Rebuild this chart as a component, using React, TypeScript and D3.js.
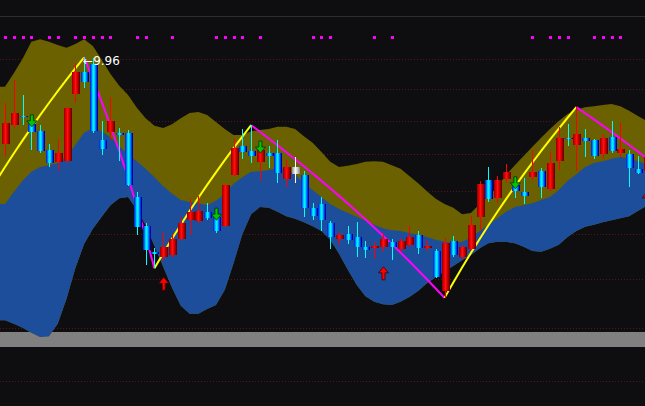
import React from 'react';
import * as d3 from 'd3';

const W = 645;
const H = 406;

// ---- price bars (log price axis) ----
const opens = [8.27, 8.61, 8.79, 8.63, 8.50, 8.16, 7.96, 7.97, 9.21, 9.65, 9.82, 8.34, 8.49, 8.46, 8.47, 7.38, 6.93, 6.55, 6.49, 6.51, 6.74, 7.02, 7.01, 7.14, 7.07, 6.93, 7.74, 8.23, 8.15, 7.96, 8.11, 8.11, 7.67, 7.75, 7.74, 7.21, 7.27, 6.98, 6.74, 6.81, 6.77, 6.63, 6.61, 6.63, 6.70, 6.60, 6.65, 6.80, 6.61, 6.57, 6.03, 6.71, 6.49, 6.60, 7.07, 7.65, 7.36, 7.67, 7.57, 7.46, 7.70, 7.80, 7.51, 7.97, 8.38, 8.25, 8.38, 8.34, 8.09, 8.39, 8.11, 8.09, 7.84, 7.80];
const highs = [9.03, 9.49, 9.19, 8.73, 8.61, 8.27, 8.36, 8.95, 9.84, 9.96, 9.94, 8.69, 9.15, 8.56, 8.52, 7.46, 6.98, 6.61, 6.84, 6.83, 7.07, 7.35, 7.39, 7.28, 7.11, 7.59, 8.36, 8.54, 8.61, 8.30, 8.23, 8.34, 7.99, 8.04, 7.80, 7.28, 7.38, 7.01, 6.84, 6.93, 6.99, 6.71, 6.70, 6.83, 6.74, 6.76, 6.93, 6.86, 6.73, 6.60, 6.76, 6.79, 6.66, 7.08, 7.64, 7.87, 7.72, 7.92, 7.67, 7.69, 8.16, 7.85, 8.13, 8.58, 8.63, 8.95, 8.54, 8.36, 8.45, 8.69, 8.65, 8.16, 8.06, 8.13];
const lows = [8.06, 8.56, 8.61, 8.16, 8.11, 7.87, 7.80, 7.94, 9.03, 9.33, 8.47, 8.08, 8.34, 7.97, 7.55, 6.80, 6.38, 6.33, 6.43, 6.49, 6.73, 6.80, 6.98, 7.02, 6.83, 6.92, 7.72, 8.01, 7.94, 7.64, 7.85, 7.60, 7.54, 7.60, 7.07, 7.02, 6.86, 6.60, 6.66, 6.67, 6.49, 6.47, 6.46, 6.56, 6.44, 6.56, 6.62, 6.53, 6.57, 6.20, 5.94, 6.49, 6.46, 6.58, 6.86, 7.30, 7.28, 7.60, 7.36, 7.27, 7.65, 7.36, 7.47, 7.82, 8.23, 7.80, 8.04, 8.01, 8.01, 8.11, 8.04, 7.54, 7.75, 7.75];
const closes = [8.65, 8.84, 8.76, 8.49, 8.15, 7.94, 8.11, 8.94, 9.65, 9.45, 8.50, 8.18, 8.69, 8.43, 7.57, 6.92, 6.58, 6.53, 6.63, 6.74, 6.98, 7.14, 7.16, 7.05, 6.86, 7.57, 8.20, 8.13, 8.06, 8.16, 8.06, 7.77, 7.87, 7.87, 7.21, 7.08, 7.02, 6.77, 6.80, 6.73, 6.63, 6.59, 6.64, 6.74, 6.63, 6.71, 6.77, 6.61, 6.64, 6.21, 6.68, 6.51, 6.63, 6.95, 7.59, 7.35, 7.65, 7.79, 7.47, 7.39, 7.79, 7.54, 7.94, 8.38, 8.35, 8.45, 8.32, 8.06, 8.38, 8.15, 8.18, 7.85, 7.77, 8.04];
const whiteBars = [33];

// ---- channel bands ----
const upperBand = [9.35, 9.63, 9.93, 10.30, 10.36, 10.30, 10.23, 10.17, 10.25, 10.36, 10.21, 9.91, 9.61, 9.37, 9.19, 8.94, 8.74, 8.60, 8.56, 8.63, 8.74, 8.84, 8.86, 8.80, 8.67, 8.54, 8.43, 8.43, 8.50, 8.52, 8.54, 8.58, 8.58, 8.54, 8.41, 8.29, 8.13, 7.96, 7.87, 7.89, 7.92, 7.96, 7.97, 7.96, 7.90, 7.84, 7.72, 7.60, 7.47, 7.35, 7.27, 7.21, 7.11, 7.13, 7.27, 7.39, 7.54, 7.74, 7.90, 8.06, 8.22, 8.38, 8.54, 8.69, 8.82, 8.90, 8.95, 8.97, 8.99, 9.01, 8.97, 8.88, 8.78, 8.69];
const midBand = [7.27, 7.46, 7.64, 7.79, 7.87, 7.90, 7.94, 8.04, 8.25, 8.47, 8.56, 8.50, 8.39, 8.23, 8.08, 7.97, 7.84, 7.70, 7.55, 7.43, 7.33, 7.30, 7.28, 7.25, 7.32, 7.43, 7.59, 7.70, 7.79, 7.80, 7.82, 7.85, 7.84, 7.74, 7.60, 7.49, 7.38, 7.27, 7.19, 7.13, 7.07, 7.01, 6.95, 6.90, 6.87, 6.86, 6.83, 6.80, 6.77, 6.73, 6.70, 6.68, 6.70, 6.76, 6.86, 6.95, 7.05, 7.15, 7.22, 7.25, 7.28, 7.33, 7.38, 7.49, 7.64, 7.75, 7.87, 7.94, 7.97, 8.01, 8.04, 8.02, 7.97, 7.92];
const lowerBand = [5.66, 5.62, 5.57, 5.51, 5.46, 5.47, 5.62, 5.93, 6.33, 6.67, 6.89, 7.07, 7.25, 7.36, 7.38, 7.18, 6.95, 6.64, 6.35, 6.07, 5.84, 5.74, 5.74, 5.80, 5.85, 6.04, 6.40, 6.81, 7.11, 7.22, 7.21, 7.15, 7.08, 7.04, 6.99, 6.93, 6.86, 6.73, 6.53, 6.31, 6.11, 5.96, 5.89, 5.86, 5.85, 5.89, 5.95, 6.03, 6.13, 6.21, 6.29, 6.36, 6.44, 6.51, 6.61, 6.68, 6.70, 6.70, 6.68, 6.63, 6.57, 6.56, 6.60, 6.66, 6.77, 6.86, 6.92, 6.95, 6.99, 7.02, 7.05, 7.08, 7.16, 7.24];

// ---- zigzag turning points [bar, price] ----
const zigPivots: [number, number][] = [[-4, 6.94], [9, 9.96], [17, 6.33], [28, 8.61], [50, 5.94], [65, 8.95], [73, 8.02]];

// ---- signals ----
const signalDots = [0, 1, 2, 3, 5, 6, 8, 9, 10, 11, 12, 15, 16, 19, 24, 25, 26, 27, 29, 35, 36, 37, 42, 44, 60, 62, 63, 64, 67, 68, 69, 70];
const sellArrows: [number, number][] = [[3, 8.58], [24, 7.02], [29, 8.11], [58, 7.51]];
const buyArrows: [number, number][] = [[18, 6.21], [43, 6.35], [73, 7.46]];

const gridPrices = [9.93, 9.31, 8.69, 8.09, 7.48, 6.82, 6.19, 5.57];
const lowerGrid = [0.5];
const highBar = 9;
const highLabel = '9.96';

export default function App() {
  const x = d3.scaleLinear().domain([0, 72]).range([5, 637.9]);
  const y = d3.scaleLog().domain([5, 10]).range([378, 55.6]);
  const yLow = d3.scaleLinear().domain([0, 1]).range([416, 346]);

  const n = opens.length;
  const idx = d3.range(n);
  const pts = idx.map((i) => ({ x: x(i), u: upperBand[i], m: midBand[i], l: lowerBand[i] }));
  const ext = [{ ...pts[0], x: 0 }, ...pts];

  const oliveArea = d3.area<any>().x((d) => d.x).y0((d) => y(d.l)).y1((d) => y(d.u))(ext) || '';
  const blueArea = d3.area<any>().x((d) => d.x).y0((d) => y(d.l)).y1((d) => y(d.m))(ext) || '';

  // zig line: linear in price between turning points, evaluated per bar
  const zigSegs = zigPivots.slice(1).map((p, k) => {
    const p0 = zigPivots[k];
    const steps: number[] = [];
    for (let t = p0[0]; t < p[0]; t++) steps.push(t);
    steps.push(p[0]);
    const line = d3.line<number>()
      .x((t) => x(t))
      .y((t) => y(p0[1] + ((p[1] - p0[1]) * (t - p0[0])) / (p[0] - p0[0])));
    return { d: line(steps) || '', up: p[1] > p0[1] };
  });

  const bw = 8;

  return (
    <>
      <style>{'body{margin:0;background:#0e0e10;}'}</style>
      <svg width={W} height={H} style={{ position: 'absolute', left: 0, top: 0, display: 'block' }}>
        <defs>
          <linearGradient id="gRed" x1="0" x2="1" y1="0" y2="0">
            <stop offset="0" stopColor="#7a0000" />
            <stop offset="0.3" stopColor="#e00000" />
            <stop offset="0.5" stopColor="#ff1010" />
            <stop offset="0.7" stopColor="#d80000" />
            <stop offset="1" stopColor="#700000" />
          </linearGradient>
          <linearGradient id="gBlue" x1="0" x2="1" y1="0" y2="0">
            <stop offset="0" stopColor="#0000a0" />
            <stop offset="0.25" stopColor="#0070ff" />
            <stop offset="0.45" stopColor="#00ffff" />
            <stop offset="0.6" stopColor="#00e0ff" />
            <stop offset="0.8" stopColor="#0060ff" />
            <stop offset="1" stopColor="#0000a0" />
          </linearGradient>
          <linearGradient id="gWhite" x1="0" x2="1" y1="0" y2="0">
            <stop offset="0" stopColor="#808080" />
            <stop offset="0.5" stopColor="#ffffff" />
            <stop offset="1" stopColor="#909090" />
          </linearGradient>
        </defs>
        <rect x={0} y={0} width={W} height={H} fill="#0e0e10" />
        <line x1={0} x2={W} y1={16.5} y2={16.5} stroke="#2e2e2e" strokeWidth={1} />

        {gridPrices.map((p, k) => (
          <line key={'g' + k} x1={0} x2={W} y1={Math.round(y(p)) + 0.5} y2={Math.round(y(p)) + 0.5}
            stroke="#5a1414" strokeWidth={1} strokeDasharray="1 2" />
        ))}
        {lowerGrid.map((v, k) => (
          <line key={'lg' + k} x1={0} x2={W} y1={Math.round(yLow(v)) + 0.5} y2={Math.round(yLow(v)) + 0.5}
            stroke="#5a1414" strokeWidth={1} strokeDasharray="1 2" />
        ))}

        <rect x={0} y={332} width={W} height={15} fill="#808080" />

        <path d={oliveArea} fill="#6b6100" />
        <path d={blueArea} fill="#1d4e9c" />

        {zigSegs.map((s, k) => (
          <path key={'z' + k} d={s.d} fill="none" stroke={s.up ? '#ffff00' : '#ff00ff'} strokeWidth={2} />
        ))}

        {idx.map((i) => {
          const o = opens[i], c = closes[i];
          const white = whiteBars.includes(i);
          const up = c > o;
          const fill = white ? 'url(#gWhite)' : up ? 'url(#gRed)' : 'url(#gBlue)';
          const wick = white ? '#ffffff' : up ? '#ff0000' : '#00ffff';
          const cx = Math.round(x(i));
          const top = Math.min(y(o), y(c));
          const h = Math.max(1.5, Math.abs(y(o) - y(c)));
          return (
            <g key={'c' + i} shapeRendering="crispEdges">
              <line x1={cx + 0.5} x2={cx + 0.5} y1={y(highs[i])} y2={y(lows[i])} stroke={wick} strokeWidth={1} />
              <rect x={cx - bw / 2 + 0.5} y={top} width={bw} height={h} fill={fill} />
            </g>
          );
        })}

        {sellArrows.map(([i, p], k) => {
          const cx = x(i) + 0.5;
          const t = y(p);
          const d = `M${cx - 1.5},${t - 12} L${cx + 1.5},${t - 12} L${cx + 1.5},${t - 6} L${cx + 5},${t - 6} L${cx},${t} L${cx - 5},${t - 6} L${cx - 1.5},${t - 6} Z`;
          return <path key={'s' + k} d={d} fill="#00c800" stroke="#003300" strokeWidth={0.8} />;
        })}
        {buyArrows.map(([i, p], k) => {
          const cx = x(i) + 0.5;
          const t = y(p);
          const d = `M${cx},${t} L${cx + 5},${t + 6} L${cx + 1.5},${t + 6} L${cx + 1.5},${t + 13} L${cx - 1.5},${t + 13} L${cx - 1.5},${t + 6} L${cx - 5},${t + 6} Z`;
          return <path key={'b' + k} d={d} fill="#ff0000" stroke="#400000" strokeWidth={0.8} />;
        })}

        {signalDots.map((i) => (
          <rect key={'d' + i} x={Math.round(x(i)) - 1} y={36} width={3} height={3} fill="#ff00ff" />
        ))}

        <text x={x(highBar) - 1} y={y(highs[highBar]) + 8} fill="#ffffff" fontFamily="DejaVu Sans, sans-serif" fontSize={12}>
          {'←' + highLabel}
        </text>
      </svg>
    </>
  );
}
